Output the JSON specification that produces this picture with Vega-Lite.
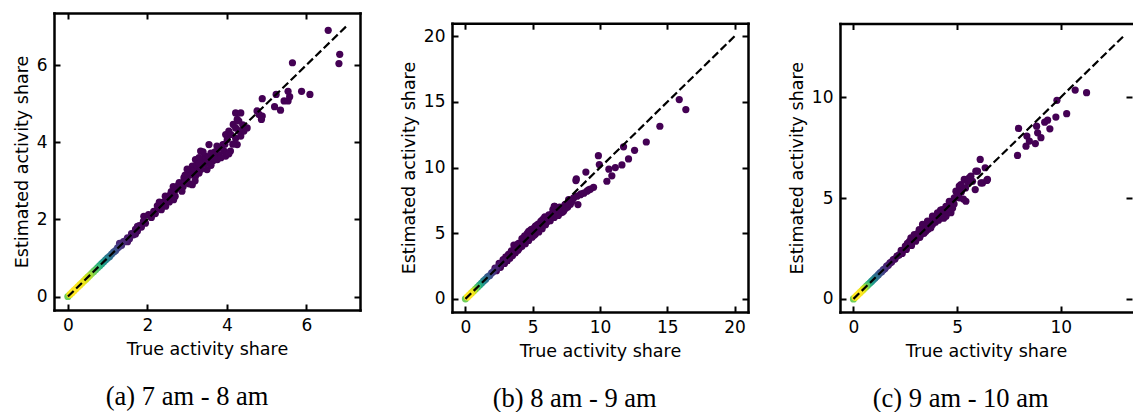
{
"$schema": "https://vega.github.io/schema/vega-lite/v6.json",
"background": "white",
"padding": {"left": 13, "top": 12, "right": 0, "bottom": 0},
"columns": 3,
"align": "none",
"spacing": 39,
"datasets": {
"a": [
{"x":0,"y":0,"d":0.78},{"x":0.05,"y":0.05,"d":0.97},{"x":0.1,"y":0.1,"d":1},{"x":0.15,"y":0.15,"d":1},{"x":0.2,"y":0.2,"d":1},{"x":0.25,"y":0.25,"d":0.99},{"x":0.3,"y":0.3,"d":0.98},{"x":0.35,"y":0.35,"d":0.97},{"x":0.4,"y":0.4,"d":0.95},{"x":0.45,"y":0.45,"d":0.93},{"x":0.5,"y":0.5,"d":0.9},{"x":0.55,"y":0.55,"d":0.86},{"x":0.6,"y":0.6,"d":0.8},{"x":0.65,"y":0.65,"d":0.76},{"x":0.7,"y":0.7,"d":0.72},{"x":0.75,"y":0.75,"d":0.67},{"x":0.8,"y":0.8,"d":0.62},{"x":0.85,"y":0.85,"d":0.56},{"x":0.9,"y":0.9,"d":0.5},{"x":0.95,"y":0.95,"d":0.45},{"x":1,"y":1,"d":0.4},{"x":1.05,"y":1.04,"d":0.35},{"x":1.1,"y":1.1,"d":0.3},{"x":1.15,"y":1.15,"d":0.26},{"x":1.2,"y":1.19,"d":0.22},{"x":1.25,"y":1.26,"d":0.18},{"x":1.3,"y":1.3,"d":0.15},{"x":1.35,"y":1.33,"d":0.12},{"x":1.4,"y":1.42,"d":0.1},{"x":1.45,"y":1.44,"d":0.08},{"x":1.5,"y":1.52,"d":0.06},{"x":1.55,"y":1.5,"d":0.05},{"x":1.6,"y":1.63,"d":0.04},{"x":1.65,"y":1.6,"d":0.03},{"x":1.7,"y":1.74,"d":0.02},{"x":1.75,"y":1.7,"d":0.02},{"x":1.8,"y":1.84,"d":0.01},{"x":1.85,"y":1.8,"d":0.01},{"x":1.9,"y":1.95,"d":0.01},{"x":1.95,"y":1.9,"d":0.01},{"x":1.3,"y":1.38,"d":0.1},{"x":1.5,"y":1.42,"d":0.05},{"x":1.7,"y":1.62,"d":0.02},{"x":1.75,"y":1.82,"d":0.02},
{"x":1.91,"y":2.08,"d":0},{"x":2.03,"y":2.12,"d":0},{"x":2.16,"y":2.21,"d":0},{"x":2.29,"y":2.3,"d":0},{"x":2.37,"y":2.38,"d":0},{"x":2.46,"y":2.34,"d":0},{"x":2.5,"y":2.51,"d":0},{"x":2.66,"y":2.51,"d":0},{"x":2.58,"y":2.64,"d":0},{"x":2.71,"y":2.77,"d":0},{"x":2.87,"y":2.73,"d":0},{"x":2.79,"y":2.9,"d":0},{"x":2.92,"y":3.08,"d":0},{"x":2.96,"y":2.95,"d":0},{"x":3.13,"y":2.9,"d":0},{"x":3.04,"y":3.21,"d":0},{"x":3.21,"y":3.12,"d":0},{"x":3.13,"y":3.38,"d":0},{"x":3.29,"y":3.33,"d":0},{"x":3.5,"y":3.29,"d":0},{"x":3.21,"y":3.55,"d":0},{"x":3.59,"y":3.46,"d":0},{"x":3.76,"y":3.55,"d":0},{"x":3.34,"y":3.77,"d":0},{"x":3.46,"y":3.64,"d":0},{"x":3.8,"y":3.68,"d":0},{"x":3.93,"y":3.77,"d":0},{"x":3.55,"y":3.94,"d":0},{"x":3.9,"y":3.94,"d":0},{"x":3.97,"y":4.2,"d":0},{"x":4.01,"y":4.07,"d":0},{"x":4.05,"y":4.29,"d":0},{"x":4.22,"y":4.1,"d":0},{"x":4.26,"y":3.94,"d":0},{"x":4.35,"y":4.16,"d":0},{"x":4.43,"y":4.29,"d":0},{"x":4.51,"y":4.37,"d":0},{"x":4.22,"y":4.37,"d":0},{"x":4.16,"y":4.46,"d":0},{"x":4.3,"y":4.55,"d":0},{"x":4.26,"y":4.59,"d":0},{"x":4.22,"y":4.76,"d":0},{"x":4.35,"y":4.76,"d":0},{"x":4.09,"y":3.77,"d":0},{"x":3.97,"y":3.64,"d":0},{"x":2.2,"y":2.15,"d":0},{"x":2.4,"y":2.45,"d":0},{"x":2.55,"y":2.45,"d":0},{"x":2.6,"y":2.72,"d":0},{"x":2.75,"y":2.85,"d":0},{"x":2.85,"y":2.8,"d":0},{"x":3.0,"y":3.05,"d":0},{"x":3.05,"y":2.92,"d":0},{"x":3.15,"y":3.25,"d":0},{"x":3.25,"y":3.4,"d":0},{"x":3.35,"y":3.3,"d":0},{"x":3.4,"y":3.55,"d":0},{"x":3.45,"y":3.45,"d":0},{"x":3.55,"y":3.6,"d":0},{"x":3.65,"y":3.52,"d":0},{"x":3.7,"y":3.75,"d":0},{"x":3.85,"y":3.85,"d":0},{"x":3.6,"y":3.72,"d":0},{"x":3.3,"y":3.6,"d":0},{"x":2.95,"y":3.15,"d":0},{"x":2.1,"y":2.05,"d":0},{"x":2.25,"y":2.35,"d":0},
{"x":2.3,"y":2.45,"d":0},{"x":2.45,"y":2.6,"d":0},{"x":2.6,"y":2.55,"d":0},{"x":2.7,"y":2.6,"d":0},{"x":2.8,"y":2.95,"d":0},{"x":2.9,"y":2.85,"d":0},{"x":3.0,"y":3.3,"d":0},{"x":3.1,"y":3.15,"d":0},{"x":3.2,"y":3.0,"d":0},{"x":3.3,"y":3.2,"d":0},{"x":3.4,"y":3.75,"d":0},{"x":3.5,"y":3.5,"d":0},{"x":3.6,"y":3.4,"d":0},{"x":3.7,"y":3.6,"d":0},{"x":3.75,"y":3.9,"d":0},{"x":3.85,"y":3.6,"d":0},{"x":3.95,"y":3.95,"d":0},{"x":4.1,"y":4.2,"d":0},{"x":4.15,"y":3.95,"d":0},{"x":4.3,"y":4.3,"d":0},{"x":4.4,"y":4.45,"d":0},{"x":3.3,"y":3.45,"d":0},{"x":2.65,"y":2.85,"d":0},{"x":2.35,"y":2.25,"d":0},{"x":2.55,"y":2.6,"d":0},{"x":4.05,"y":3.7,"d":0},
{"x":4.76,"y":4.81,"d":0},{"x":4.89,"y":4.68,"d":0},{"x":4.87,"y":4.59,"d":0},{"x":4.89,"y":5.13,"d":0},{"x":4.81,"y":4.72,"d":0},{"x":5.2,"y":4.92,"d":0},{"x":5.35,"y":4.83,"d":0},{"x":5.24,"y":5.24,"d":0},{"x":5.44,"y":5.07,"d":0},{"x":5.54,"y":5.07,"d":0},{"x":5.58,"y":5.18,"d":0},{"x":5.54,"y":5.32,"d":0},{"x":5.88,"y":5.32,"d":0},{"x":6.09,"y":5.24,"d":0},{"x":5.65,"y":6.06,"d":0},{"x":6.82,"y":6.04,"d":0},{"x":6.84,"y":6.28,"d":0},{"x":6.55,"y":6.9,"d":0}
],
"b": [
{"x":0,"y":0,"d":0.78},{"x":0.15,"y":0.15,"d":1},{"x":0.3,"y":0.3,"d":1},{"x":0.45,"y":0.45,"d":0.97},{"x":0.6,"y":0.6,"d":0.9},{"x":0.75,"y":0.75,"d":0.8},{"x":0.9,"y":0.9,"d":0.7},{"x":1.05,"y":1.05,"d":0.6},{"x":1.2,"y":1.2,"d":0.5},{"x":1.35,"y":1.37,"d":0.42},{"x":1.5,"y":1.5,"d":0.35},{"x":1.65,"y":1.68,"d":0.28},{"x":1.8,"y":1.78,"d":0.22},{"x":1.95,"y":1.98,"d":0.17},{"x":2.1,"y":2.1,"d":0.12},{"x":2.25,"y":2.3,"d":0.09},{"x":2.4,"y":2.38,"d":0.06},{"x":2.55,"y":2.6,"d":0.04},{"x":2.7,"y":2.7,"d":0.03},{"x":2.85,"y":2.9,"d":0.02},{"x":3.0,"y":2.95,"d":0.015},
{"x":2.2,"y":2.35,"d":0},{"x":2.3,"y":2.15,"d":0},{"x":2.5,"y":2.7,"d":0},{"x":2.6,"y":2.4,"d":0},{"x":2.8,"y":3.0,"d":0},{"x":2.9,"y":2.7,"d":0},{"x":3.0,"y":3.2,"d":0},{"x":3.1,"y":2.9,"d":0},{"x":3.2,"y":3.4,"d":0},{"x":3.3,"y":3.1,"d":0},{"x":3.4,"y":3.65,"d":0},{"x":3.5,"y":3.3,"d":0},{"x":3.55,"y":3.5,"d":0},{"x":3.6,"y":4.1,"d":0},{"x":3.7,"y":3.5,"d":0},{"x":3.8,"y":4.0,"d":0},{"x":3.9,"y":3.7,"d":0},{"x":4.0,"y":4.25,"d":0},{"x":4.0,"y":3.85,"d":0},{"x":4.2,"y":4.6,"d":0},{"x":4.2,"y":4.0,"d":0},{"x":4.3,"y":4.3,"d":0},{"x":4.4,"y":4.8,"d":0},{"x":4.45,"y":4.2,"d":0},{"x":4.5,"y":4.55,"d":0},{"x":4.6,"y":5.0,"d":0},{"x":4.7,"y":4.45,"d":0},{"x":4.7,"y":5.15,"d":0},{"x":4.8,"y":4.75,"d":0},{"x":4.9,"y":5.3,"d":0},{"x":4.95,"y":4.7,"d":0},{"x":5.0,"y":5.0,"d":0},{"x":5.1,"y":5.4,"d":0},{"x":5.2,"y":4.95,"d":0},{"x":5.2,"y":5.55,"d":0},{"x":5.3,"y":5.2,"d":0},{"x":5.4,"y":5.7,"d":0},{"x":5.45,"y":5.1,"d":0},{"x":5.5,"y":5.45,"d":0},{"x":5.6,"y":5.9,"d":0},{"x":5.7,"y":5.35,"d":0},{"x":5.7,"y":6.0,"d":0},{"x":5.8,"y":5.6,"d":0},{"x":5.9,"y":6.25,"d":0},{"x":5.95,"y":5.65,"d":0},{"x":6.1,"y":5.9,"d":0},{"x":6.2,"y":6.4,"d":0},{"x":6.3,"y":5.95,"d":0},{"x":6.4,"y":6.2,"d":0},{"x":6.45,"y":6.5,"d":0},{"x":6.6,"y":7.05,"d":0},{"x":6.6,"y":6.2,"d":0},{"x":6.75,"y":6.45,"d":0},{"x":6.9,"y":6.6,"d":0},{"x":7.05,"y":6.55,"d":0},{"x":7.1,"y":6.8,"d":0},{"x":7.3,"y":6.7,"d":0},{"x":7.4,"y":7.18,"d":0},{"x":7.45,"y":6.9,"d":0},{"x":7.6,"y":7.0,"d":0},
{"x":3.2,"y":3.25,"d":0},{"x":3.6,"y":3.75,"d":0},{"x":3.9,"y":4.2,"d":0},{"x":4.1,"y":4.1,"d":0},{"x":4.3,"y":4.6,"d":0},{"x":4.6,"y":4.7,"d":0},{"x":4.8,"y":5.2,"d":0},{"x":5.0,"y":5.3,"d":0},{"x":5.1,"y":4.85,"d":0},{"x":5.3,"y":5.6,"d":0},{"x":5.6,"y":5.6,"d":0},{"x":5.8,"y":6.1,"d":0},{"x":6.0,"y":6.15,"d":0},{"x":6.2,"y":6.05,"d":0},{"x":6.5,"y":6.8,"d":0},{"x":6.8,"y":6.75,"d":0},{"x":7.0,"y":7.0,"d":0},{"x":6.9,"y":6.35,"d":0},{"x":7.2,"y":6.6,"d":0},{"x":7.6,"y":7.3,"d":0},{"x":7.8,"y":7.2,"d":0},{"x":8.6,"y":8.0,"d":0},{"x":9.15,"y":8.3,"d":0},
{"x":15.89,"y":15.18,"d":0},{"x":16.38,"y":14.42,"d":0},{"x":14.45,"y":13.15,"d":0},{"x":13.44,"y":11.95,"d":0},{"x":12.57,"y":11.32,"d":0},{"x":11.75,"y":11.58,"d":0},{"x":12.12,"y":10.66,"d":0},{"x":11.63,"y":10.2,"d":0},{"x":11.14,"y":10.0,"d":0},{"x":10.66,"y":9.88,"d":0},{"x":10.88,"y":9.37,"d":0},{"x":10.51,"y":8.96,"d":0},{"x":9.88,"y":10.91,"d":0},{"x":9.95,"y":10.23,"d":0},{"x":8.95,"y":9.66,"d":0},{"x":8.24,"y":9.14,"d":0},{"x":8.21,"y":9.01,"d":0},{"x":9.52,"y":8.5,"d":0},{"x":9.28,"y":8.36,"d":0},{"x":9.03,"y":8.2,"d":0},{"x":8.8,"y":8.05,"d":0},{"x":8.54,"y":7.94,"d":0},{"x":8.29,"y":7.82,"d":0},{"x":8.04,"y":7.69,"d":0},{"x":8.36,"y":7.18,"d":0},{"x":7.92,"y":7.43,"d":0},{"x":7.67,"y":7.56,"d":0},{"x":7.42,"y":7.18,"d":0},{"x":7.17,"y":6.93,"d":0},{"x":6.93,"y":6.8,"d":0},{"x":6.63,"y":7.05,"d":0},{"x":6.68,"y":6.55,"d":0}
],
"c": [
{"x":0,"y":0,"d":0.78},{"x":0.08,"y":0.08,"d":0.98},{"x":0.16,"y":0.16,"d":1},{"x":0.24,"y":0.24,"d":1},{"x":0.32,"y":0.32,"d":0.99},{"x":0.4,"y":0.4,"d":0.96},{"x":0.48,"y":0.48,"d":0.92},{"x":0.56,"y":0.56,"d":0.84},{"x":0.64,"y":0.64,"d":0.74},{"x":0.72,"y":0.72,"d":0.64},{"x":0.8,"y":0.8,"d":0.56},{"x":0.88,"y":0.88,"d":0.5},{"x":0.96,"y":0.96,"d":0.44},{"x":1.04,"y":1.04,"d":0.38},{"x":1.12,"y":1.12,"d":0.32},{"x":1.2,"y":1.2,"d":0.27},{"x":1.28,"y":1.29,"d":0.22},{"x":1.36,"y":1.35,"d":0.18},{"x":1.44,"y":1.45,"d":0.14},{"x":1.52,"y":1.5,"d":0.11},{"x":1.6,"y":1.62,"d":0.08},{"x":1.68,"y":1.67,"d":0.06},{"x":1.76,"y":1.78,"d":0.04},{"x":1.84,"y":1.83,"d":0.03},{"x":1.92,"y":1.95,"d":0.02},{"x":2.0,"y":1.98,"d":0.015},{"x":2.1,"y":2.12,"d":0.01},{"x":2.2,"y":2.18,"d":0.01},
{"x":2.3,"y":2.4,"d":0},{"x":2.35,"y":2.25,"d":0},{"x":2.5,"y":2.62,"d":0},{"x":2.55,"y":2.45,"d":0},{"x":2.7,"y":2.85,"d":0},{"x":2.77,"y":3.03,"d":0},{"x":2.8,"y":2.65,"d":0},{"x":2.93,"y":3.19,"d":0},{"x":3.0,"y":2.86,"d":0},{"x":3.09,"y":3.03,"d":0},{"x":3.17,"y":3.44,"d":0},{"x":3.2,"y":3.05,"d":0},{"x":3.25,"y":3.19,"d":0},{"x":3.33,"y":3.69,"d":0},{"x":3.4,"y":3.25,"d":0},{"x":3.49,"y":3.35,"d":0},{"x":3.57,"y":3.85,"d":0},{"x":3.6,"y":3.45,"d":0},{"x":3.73,"y":3.52,"d":0},{"x":3.81,"y":4.1,"d":0},{"x":3.81,"y":3.69,"d":0},{"x":3.95,"y":3.8,"d":0},{"x":4.05,"y":4.27,"d":0},{"x":4.1,"y":3.9,"d":0},{"x":4.2,"y":4.4,"d":0},{"x":4.29,"y":4.43,"d":0},{"x":4.35,"y":4.0,"d":0},{"x":4.46,"y":4.59,"d":0},{"x":4.46,"y":4.1,"d":0},{"x":4.55,"y":4.3,"d":0},{"x":4.62,"y":4.84,"d":0},{"x":4.7,"y":4.27,"d":0},{"x":4.7,"y":4.6,"d":0},{"x":4.78,"y":4.51,"d":0},{"x":4.86,"y":5.01,"d":0},{"x":4.94,"y":5.34,"d":0},{"x":5.1,"y":5.01,"d":0},{"x":5.1,"y":5.59,"d":0},{"x":5.18,"y":5.67,"d":0},{"x":5.34,"y":5.92,"d":0},{"x":5.42,"y":4.84,"d":0},{"x":5.3,"y":4.95,"d":0},{"x":5.58,"y":6.0,"d":0},{"x":5.66,"y":6.08,"d":0},{"x":5.74,"y":5.83,"d":0},{"x":5.87,"y":5.42,"d":0},{"x":5.9,"y":6.33,"d":0},{"x":5.98,"y":6.33,"d":0},{"x":6.11,"y":6.91,"d":0},{"x":6.15,"y":5.75,"d":0},{"x":6.22,"y":5.75,"d":0},{"x":6.35,"y":6.5,"d":0},{"x":6.43,"y":5.87,"d":0},{"x":6.46,"y":5.92,"d":0},
{"x":2.6,"y":2.75,"d":0},{"x":2.9,"y":2.9,"d":0},{"x":3.1,"y":3.25,"d":0},{"x":3.3,"y":3.4,"d":0},{"x":3.5,"y":3.6,"d":0},{"x":3.7,"y":3.85,"d":0},{"x":3.9,"y":4.05,"d":0},{"x":4.0,"y":3.95,"d":0},{"x":4.15,"y":4.2,"d":0},{"x":4.4,"y":4.4,"d":0},{"x":4.6,"y":4.45,"d":0},{"x":4.8,"y":4.8,"d":0},{"x":5.0,"y":5.15,"d":0},{"x":5.2,"y":5.3,"d":0},{"x":5.4,"y":5.5,"d":0},{"x":5.5,"y":5.8,"d":0},{"x":4.85,"y":4.7,"d":0},{"x":4.25,"y":4.15,"d":0},{"x":3.65,"y":3.7,"d":0},
{"x":7.91,"y":7.11,"d":0},{"x":7.96,"y":8.45,"d":0},{"x":8.32,"y":7.57,"d":0},{"x":8.36,"y":8.07,"d":0},{"x":8.48,"y":7.82,"d":0},{"x":8.77,"y":7.7,"d":0},{"x":8.83,"y":8.56,"d":0},{"x":8.88,"y":8.23,"d":0},{"x":9.04,"y":7.99,"d":0},{"x":9.22,"y":8.76,"d":0},{"x":9.36,"y":8.86,"d":0},{"x":9.47,"y":8.43,"d":0},{"x":9.76,"y":9.01,"d":0},{"x":9.81,"y":9.84,"d":0},{"x":10.28,"y":9.18,"d":0},{"x":10.69,"y":10.35,"d":0},{"x":11.24,"y":10.22,"d":0}
],
"la": [{"x":0,"y":0},{"x":7,"y":7}],
"lb": [{"x":0,"y":0},{"x":20,"y":20}],
"lc": [{"x":0,"y":0},{"x":13,"y":13}]
},
"concat": [
{
"width": 306, "height": 297,
"title": {"text": "(a) 7 am - 8 am"},
"resolve": {"axis": {"x": "independent", "y": "independent"}},
"layer": [
{"data": {"name": "a"}, "mark": {"type": "circle", "size": 52, "opacity": 1},
 "encoding": {
  "x": {"field": "x", "type": "quantitative", "scale": {"domain": [-0.35, 7.35], "nice": false, "zero": false}, "axis": {"orient": "bottom", "values": [0,2,4,6], "title": "True activity share", "titlePadding": 7}},
  "y": {"field": "y", "type": "quantitative", "scale": {"domain": [-0.35, 7.35], "nice": false, "zero": false}, "axis": {"orient": "left", "values": [0,2,4,6], "title": "Estimated activity share", "titlePadding": 5}},
  "color": {"field": "d", "type": "quantitative", "scale": {"scheme": "viridis", "domain": [0, 1]}, "legend": null},
  "order": {"field": "d", "type": "quantitative"}
 }},
{"data": {"name": "la"}, "mark": {"type": "line", "color": "black", "strokeWidth": 2.2, "strokeDash": [8, 3.5]},
 "encoding": {
  "x": {"field": "x", "type": "quantitative", "scale": {"domain": [-0.35, 7.35], "nice": false, "zero": false}, "axis": {"orient": "top", "values": [0,2,4,6], "labels": false, "title": null}},
  "y": {"field": "y", "type": "quantitative", "scale": {"domain": [-0.35, 7.35], "nice": false, "zero": false}, "axis": {"orient": "right", "values": [0,2,4,6], "labels": false, "title": null}}
 }}
]
},
{
"width": 296, "height": 299,
"title": {"text": "(b) 8 am - 9 am"},
"resolve": {"axis": {"x": "independent", "y": "independent"}},
"layer": [
{"data": {"name": "b"}, "mark": {"type": "circle", "size": 52, "opacity": 1},
 "encoding": {
  "x": {"field": "x", "type": "quantitative", "scale": {"domain": [-1, 21], "nice": false, "zero": false}, "axis": {"orient": "bottom", "values": [0,5,10,15,20], "title": "True activity share", "titlePadding": 7}},
  "y": {"field": "y", "type": "quantitative", "scale": {"domain": [-1, 21], "range": [299, 10.2], "nice": false, "zero": false}, "axis": {"orient": "left", "values": [0,5,10,15,20], "title": "Estimated activity share", "titlePadding": 5}},
  "color": {"field": "d", "type": "quantitative", "scale": {"scheme": "viridis", "domain": [0, 1]}, "legend": null},
  "order": {"field": "d", "type": "quantitative"}
 }},
{"data": {"name": "lb"}, "mark": {"type": "line", "color": "black", "strokeWidth": 2.2, "strokeDash": [8, 3.5]},
 "encoding": {
  "x": {"field": "x", "type": "quantitative", "scale": {"domain": [-1, 21], "nice": false, "zero": false}, "axis": {"orient": "top", "offset": -10.2, "values": [0,5,10,15,20], "labels": false, "title": null}},
  "y": {"field": "y", "type": "quantitative", "scale": {"domain": [-1, 21], "range": [299, 10.2], "nice": false, "zero": false}, "axis": {"orient": "right", "values": [0,5,10,15,20], "labels": false, "title": null}}
 }}
]
},
{
"width": 292, "height": 299,
"title": {"text": "(c) 9 am - 10 am"},
"resolve": {"axis": {"x": "independent", "y": "independent"}},
"layer": [
{"data": {"name": "c"}, "mark": {"type": "circle", "size": 52, "opacity": 1},
 "encoding": {
  "x": {"field": "x", "type": "quantitative", "scale": {"domain": [-0.65, 13.43], "nice": false, "zero": false}, "axis": {"orient": "bottom", "values": [0,5,10], "title": "True activity share", "titlePadding": 7}},
  "y": {"field": "y", "type": "quantitative", "scale": {"domain": [-0.65, 13.65], "range": [299, 10.5], "nice": false, "zero": false}, "axis": {"orient": "left", "values": [0,5,10], "title": "Estimated activity share", "titlePadding": 5}},
  "color": {"field": "d", "type": "quantitative", "scale": {"scheme": "viridis", "domain": [0, 1]}, "legend": null},
  "order": {"field": "d", "type": "quantitative"}
 }},
{"data": {"name": "lc"}, "mark": {"type": "line", "color": "black", "strokeWidth": 2.2, "strokeDash": [8, 3.5]},
 "encoding": {
  "x": {"field": "x", "type": "quantitative", "scale": {"domain": [-0.65, 13.43], "nice": false, "zero": false}, "axis": {"orient": "top", "offset": -10.5, "values": [0,5,10], "labels": false, "title": null}},
  "y": {"field": "y", "type": "quantitative", "scale": {"domain": [-0.65, 13.65], "range": [299, 10.5], "nice": false, "zero": false}, "axis": {"orient": "right", "values": [0,5,10], "labels": false, "title": null, "domain": false}}
 }}
]
}
],
"config": {
"view": {"stroke": null},
"axis": {"labelFont": "DejaVu Sans", "labelFontSize": 17, "labelColor": "black", "labelPadding": 13, "titleFont": "DejaVu Sans", "titleFontSize": 17.5, "titleFontWeight": "normal", "titleColor": "black", "tickColor": "black", "tickWidth": 2, "tickSize": -6, "domainColor": "black", "domainWidth": 2.5, "domainCap": "square", "grid": false, "labelFlush": false, "labelOverlap": false},
"title": {"font": "Liberation Serif", "fontSize": 26.5, "fontWeight": "normal", "color": "black", "orient": "bottom", "anchor": "middle", "frame": "bounds", "offset": 26}
}
}
